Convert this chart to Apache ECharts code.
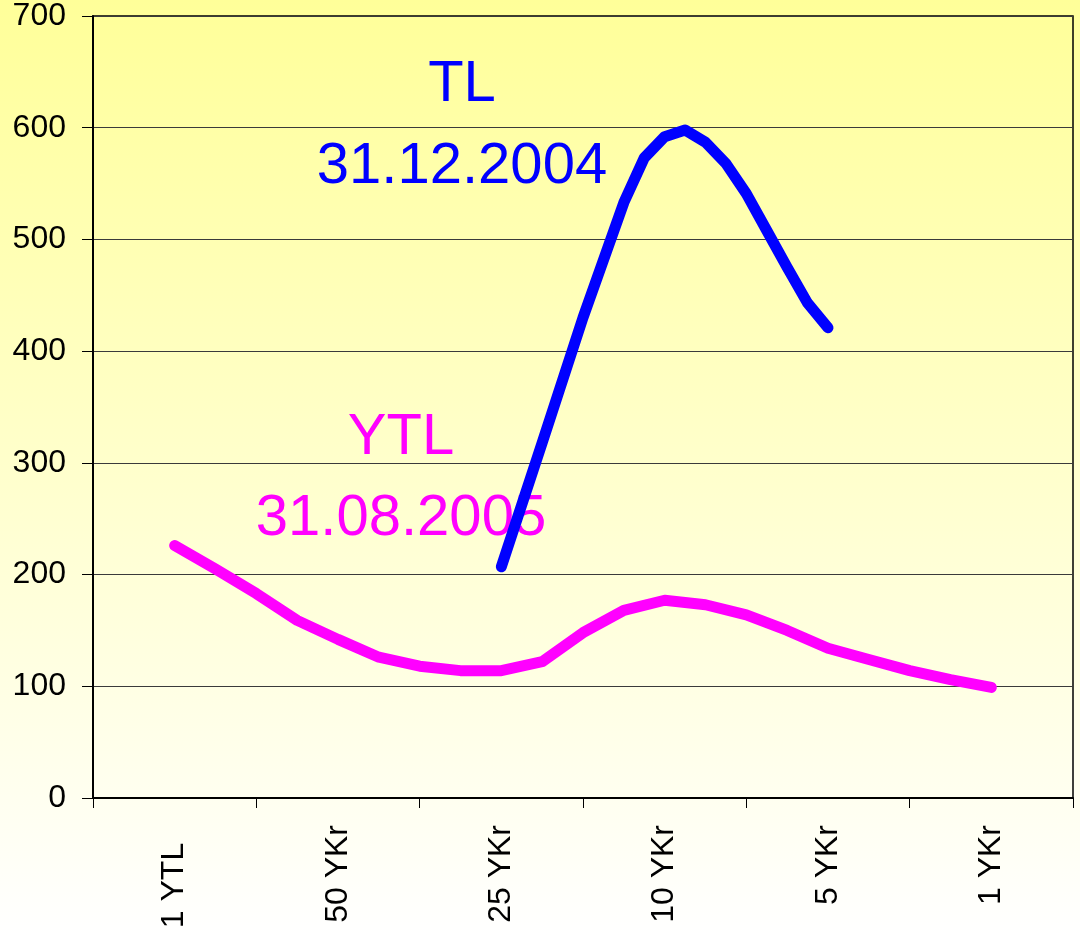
<!DOCTYPE html>
<html>
<head>
<meta charset="utf-8">
<script src="https://cdn.jsdelivr.net/npm/echarts@6/dist/echarts.min.js"></script>
<style>
html,body{margin:0;padding:0;width:1080px;height:936px;overflow:hidden;}
#chart{width:1080px;height:936px;}
</style>
</head>
<body>
<div id="chart"></div>
<script>
// Category labels (one per group of 4 units on the hidden x scale)
var categories = ['1 YTL  ', '50 YKr', '25 YKr', '10 YKr', '5 YKr', '1 YKr'];

// YTL series (31.08.2005): x positions and values
var ytlX = [2, 3, 4, 5, 6, 7, 8, 9, 10, 11, 12, 13, 14, 15, 16, 17, 18, 19, 20, 21, 22];
var ytlY = [226, 205, 183, 159, 142, 126, 118, 114, 114, 122, 148, 168, 177, 173, 164, 150, 134, 124, 114, 106, 99];

// TL series (31.12.2004): x positions and values
var tlX = [10, 11, 12, 13, 13.5, 14, 14.5, 15, 15.5, 16, 16.5, 17, 17.5, 18];
var tlY = [207, 318, 430, 533, 573, 592, 598, 587, 568, 541, 508, 475, 443, 421];

// Annotation texts
var tlName = 'TL', tlDate = '31.12.2004';
var ytlName = 'YTL', ytlDate = '31.08.2005';

function pairs(xs, ys) { return xs.map(function (x, i) { return [x, ys[i]]; }); }

var FONT = '"Liberation Sans", Arial, sans-serif';
var chart = echarts.init(document.getElementById('chart'), null, {renderer: 'canvas'});
chart.setOption({
  animation: false,
  backgroundColor: {
    type: 'linear', x: 0, y: 0, x2: 0, y2: 1,
    colorStops: [{offset: 0, color: '#FFFF99'}, {offset: 1, color: '#FFFFFF'}]
  },
  grid: {
    left: 93, right: 7, top: 16, bottom: 138,
    show: true, borderColor: '#000', borderWidth: 1.5, backgroundColor: 'transparent'
  },
  xAxis: [{
    type: 'category',
    data: categories,
    boundaryGap: true,
    position: 'bottom',
    axisLine: {show: true, lineStyle: {color: '#000', width: 2}},
    axisTick: {show: true, length: 10, lineStyle: {color: '#000', width: 1}},
    axisLabel: {rotate: 90, margin: 27, fontSize: 32, color: '#000', fontFamily: FONT},
    splitLine: {show: false}
  }, {
    type: 'value', min: 0, max: 24, show: false, position: 'bottom',
    splitLine: {show: false}
  }],
  yAxis: {
    type: 'value', min: 0, max: 700, interval: 100,
    axisLine: {show: true, lineStyle: {color: '#000', width: 2}},
    axisTick: {show: true, length: 11, lineStyle: {color: '#000', width: 1}},
    axisLabel: {margin: 27, fontSize: 32, color: '#000', fontFamily: FONT},
    splitLine: {show: true, lineStyle: {color: '#3a3a3a', width: 1}}
  },
  graphic: [
    {type: 'text', z: 1, x: 462, y: 85, style: {text: tlName, fill: '#0000FF', font: '58px ' + FONT, textAlign: 'center', textVerticalAlign: 'middle'}},
    {type: 'text', z: 1, x: 462, y: 167, style: {text: tlDate, fill: '#0000FF', font: '58px ' + FONT, textAlign: 'center', textVerticalAlign: 'middle'}},
    {type: 'text', z: 1, x: 401, y: 438, style: {text: ytlName, fill: '#FF00FF', font: '58px ' + FONT, textAlign: 'center', textVerticalAlign: 'middle'}},
    {type: 'text', z: 1, x: 401, y: 519, style: {text: ytlDate, fill: '#FF00FF', font: '58px ' + FONT, textAlign: 'center', textVerticalAlign: 'middle'}}
  ],
  series: [{
    name: 'YTL', type: 'line', xAxisIndex: 1,
    data: pairs(ytlX, ytlY), showSymbol: false, symbol: 'none', z: 3,
    lineStyle: {color: '#FF00FF', width: 11, cap: 'round', join: 'round'}
  }, {
    name: 'TL', type: 'line', xAxisIndex: 1,
    data: pairs(tlX, tlY), showSymbol: false, symbol: 'none', z: 4,
    lineStyle: {color: '#0000FF', width: 11, cap: 'round', join: 'round'}
  }]
});
</script>
</body>
</html>
